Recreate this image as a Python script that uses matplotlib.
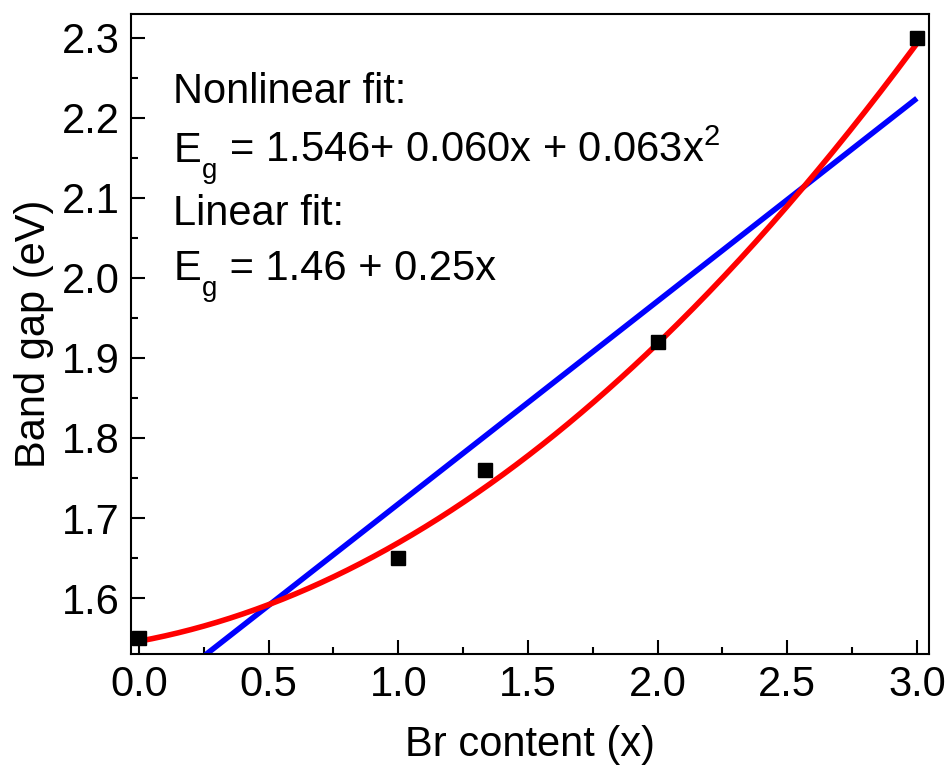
import numpy as np
import matplotlib
matplotlib.use("Agg")
import matplotlib.pyplot as plt
from matplotlib.ticker import MultipleLocator, FormatStrFormatter
from matplotlib.transforms import offset_copy

plt.rcParams['font.family'] = ['Liberation Sans', 'DejaVu Sans']
plt.rcParams['mathtext.fontset'] = 'custom'
plt.rcParams['mathtext.rm'] = 'Liberation Sans'
plt.rcParams['mathtext.it'] = 'Liberation Sans'

# data
br_content = [0.0, 1.0, 1.333, 2.0, 3.0]
band_gap = [1.55, 1.65, 1.76, 1.92, 2.30]
# fit coefficients (c0, c1, c2)
nonlinear_coef = [1.546, 0.060, 0.063]
linear_coef = [1.464, 0.2535]
fit_range = [0.0, 3.0]

FS = 30

fig = plt.figure(figsize=(9.51, 7.74), dpi=100)
ax = fig.add_axes([0.1377, 0.155, 0.8392, 0.827])

xf = np.linspace(fit_range[0], fit_range[1], 300)
y_lin = linear_coef[0] + linear_coef[1] * xf
y_nl = nonlinear_coef[0] + nonlinear_coef[1] * xf + nonlinear_coef[2] * xf**2
ax.plot(xf, y_lin, color='#0000ff', lw=4, solid_capstyle='butt', zorder=2)
ax.plot(xf, y_nl, color='#ff0000', lw=4, solid_capstyle='butt', zorder=3)
ax.plot(br_content, band_gap, ls='none', marker='s', ms=10.5, color='black', zorder=4, clip_on=False)

ax.set_xlim(-0.031, 3.047)
ax.set_ylim(1.53, 2.33)
ax.xaxis.set_major_locator(MultipleLocator(0.5))
ax.xaxis.set_minor_locator(MultipleLocator(0.25))
ax.yaxis.set_major_locator(MultipleLocator(0.1))
ax.yaxis.set_minor_locator(MultipleLocator(0.05))
ax.xaxis.set_major_formatter(FormatStrFormatter('%.1f'))
ax.yaxis.set_major_formatter(FormatStrFormatter('%.1f'))
ax.tick_params(which='both', direction='in', top=False, right=False, width=1.5, labelsize=FS)
ax.tick_params(which='major', length=10, pad=8)
ax.tick_params(which='minor', length=5)
for s in ax.spines.values():
    s.set_linewidth(1.5)

ax.set_xlabel('Br content (x)', fontsize=FS, labelpad=14)
ax.set_ylabel('Band gap (eV)', fontsize=FS, labelpad=6)

tx = 0.053
ax.text(tx, 0.861, 'Nonlinear fit:', transform=ax.transAxes, fontsize=FS, va='baseline')
ax.text(tx, 0.670, 'Linear fit:', transform=ax.transAxes, fontsize=FS, va='baseline')

fig.canvas.draw()
renderer = fig.canvas.get_renderer()


def eq_line(y, rest):
    t1 = ax.text(tx, y, 'E', transform=ax.transAxes, fontsize=FS, va='baseline')
    w1 = t1.get_window_extent(renderer).width
    tr_g = offset_copy(ax.transAxes, fig=fig, x=w1 + 1, y=-16, units='dots')
    t2 = ax.text(tx, y, 'g', transform=tr_g, fontsize=20, va='baseline')
    w2 = t2.get_window_extent(renderer).width
    tr_r = offset_copy(ax.transAxes, fig=fig, x=w1 + w2 + 2, y=0, units='dots')
    ax.text(tx, y, rest, transform=tr_r, fontsize=FS, va='baseline')


eq_line(0.769, r' = 1.546+ 0.060x + 0.063x$^\mathrm{2}$')
eq_line(0.584, r' = 1.46 + 0.25x')

fig.savefig('out.png', dpi=100)
